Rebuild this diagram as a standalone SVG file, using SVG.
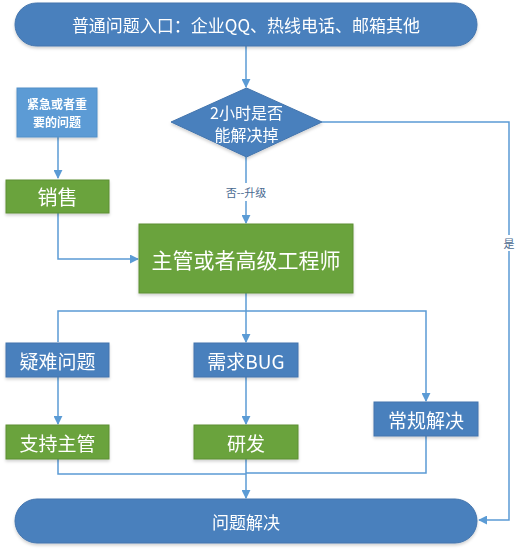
<svg xmlns="http://www.w3.org/2000/svg" width="531" height="552" viewBox="0 0 531 552">
<defs>
<style>
.blue{fill:#4a80bd;stroke:#4274ad;stroke-width:1}
.lblue{fill:#5b9bd5;stroke:#5290c8;stroke-width:1}
.green{fill:#6ba33c;stroke:#5d8f34;stroke-width:1}
.t{font-family:"Noto Sans CJK SC","Noto Sans",sans-serif;fill:#ffffff;text-anchor:middle;dominant-baseline:central}
.conn{fill:none;stroke:#5b9bd5;stroke-width:1.5}
.lab{font-family:"Noto Sans CJK SC","Noto Sans",sans-serif;fill:#4a6a90;font-size:11px;text-anchor:middle;dominant-baseline:central}
</style>
<marker id="arr" viewBox="0 0 10 10" refX="9" refY="5" markerWidth="6" markerHeight="6" orient="auto" markerUnits="strokeWidth">
<path d="M0,0 L10,5 L0,10 z" fill="#5b9bd5"/>
</marker>
<filter id="sh" x="-10%" y="-10%" width="120%" height="130%">
<feDropShadow dx="0" dy="2" stdDeviation="1.5" flood-color="#000" flood-opacity="0.18"/>
</filter>
</defs>
<rect width="531" height="552" fill="#ffffff"/>
<g id="connectors">
<path class="conn" d="M246,46 V87" marker-end="url(#arr)"/>
<path class="conn" d="M322,122 H509 V520 H479" marker-end="url(#arr)"/>
<path class="conn" d="M246,157 V183"/>
<path class="conn" d="M246,201 V223" marker-end="url(#arr)"/>
<path class="conn" d="M58,137 V178" marker-end="url(#arr)"/>
<path class="conn" d="M58,213 V259 H138" marker-end="url(#arr)"/>
<path class="conn" d="M246,293 V342" marker-end="url(#arr)"/>
<path class="conn" d="M58,342 V311 H426 V401" marker-end="url(#arr)"/>
<path class="conn" d="M58,377 V424" marker-end="url(#arr)"/>
<path class="conn" d="M246,377 V424" marker-end="url(#arr)"/>
<path class="conn" d="M58,459 V474 H246"/>
<path class="conn" d="M426,436 V473 H246"/>
<path class="conn" d="M246,459 V498" marker-end="url(#arr)"/>
<text class="lab" x="246" y="192">否--升级</text>
<rect x="502" y="235" width="14" height="16" fill="#ffffff"/>
<text class="lab" x="509" y="243">是</text>
</g>
<g id="start" filter="url(#sh)">
<rect class="blue" x="15" y="3" width="462" height="43" rx="21.5"/>
<text class="t" x="246" y="24.5" font-size="17">普通问题入口：企业QQ、热线电话、邮箱其他</text>
</g>
<g id="decision" filter="url(#sh)">
<polygon class="blue" points="246.5,88 322,122 246.5,157 171,122"/>
<text class="t" x="246.5" y="112" font-size="16">2小时是否</text>
<text class="t" x="246.5" y="134" font-size="16">能解决掉</text>
</g>
<g id="urgent" filter="url(#sh)">
<rect class="lblue" x="17" y="88" width="80" height="49"/>
<text class="t" x="57" y="103" font-size="12" font-weight="bold">紧急或者重</text>
<text class="t" x="57" y="121" font-size="12" font-weight="bold">要的问题</text>
</g>
<g id="sales" filter="url(#sh)">
<rect class="green" x="6" y="180" width="103" height="33"/>
<text class="t" x="57.5" y="196.5" font-size="20">销售</text>
</g>
<g id="manager" filter="url(#sh)">
<rect class="green" x="139" y="224" width="214" height="69"/>
<text class="t" x="246" y="258.5" font-size="21">主管或者高级工程师</text>
</g>
<g id="hard" filter="url(#sh)">
<rect class="blue" x="6" y="343" width="103" height="34"/>
<text class="t" x="57.5" y="360" font-size="19">疑难问题</text>
</g>
<g id="bug" filter="url(#sh)">
<rect class="blue" x="194" y="343" width="104" height="34"/>
<text class="t" x="246" y="360" font-size="19">需求BUG</text>
</g>
<g id="routine" filter="url(#sh)">
<rect class="blue" x="374" y="402" width="104" height="34"/>
<text class="t" x="426" y="419" font-size="19">常规解决</text>
</g>
<g id="support" filter="url(#sh)">
<rect class="green" x="6" y="425" width="103" height="34"/>
<text class="t" x="57.5" y="442" font-size="19">支持主管</text>
</g>
<g id="dev" filter="url(#sh)">
<rect class="green" x="194" y="425" width="104" height="34"/>
<text class="t" x="246" y="442" font-size="19">研发</text>
</g>
<g id="end" filter="url(#sh)">
<rect class="blue" x="15" y="499" width="462" height="44" rx="22"/>
<text class="t" x="246" y="521" font-size="17">问题解决</text>
</g>
</svg>
